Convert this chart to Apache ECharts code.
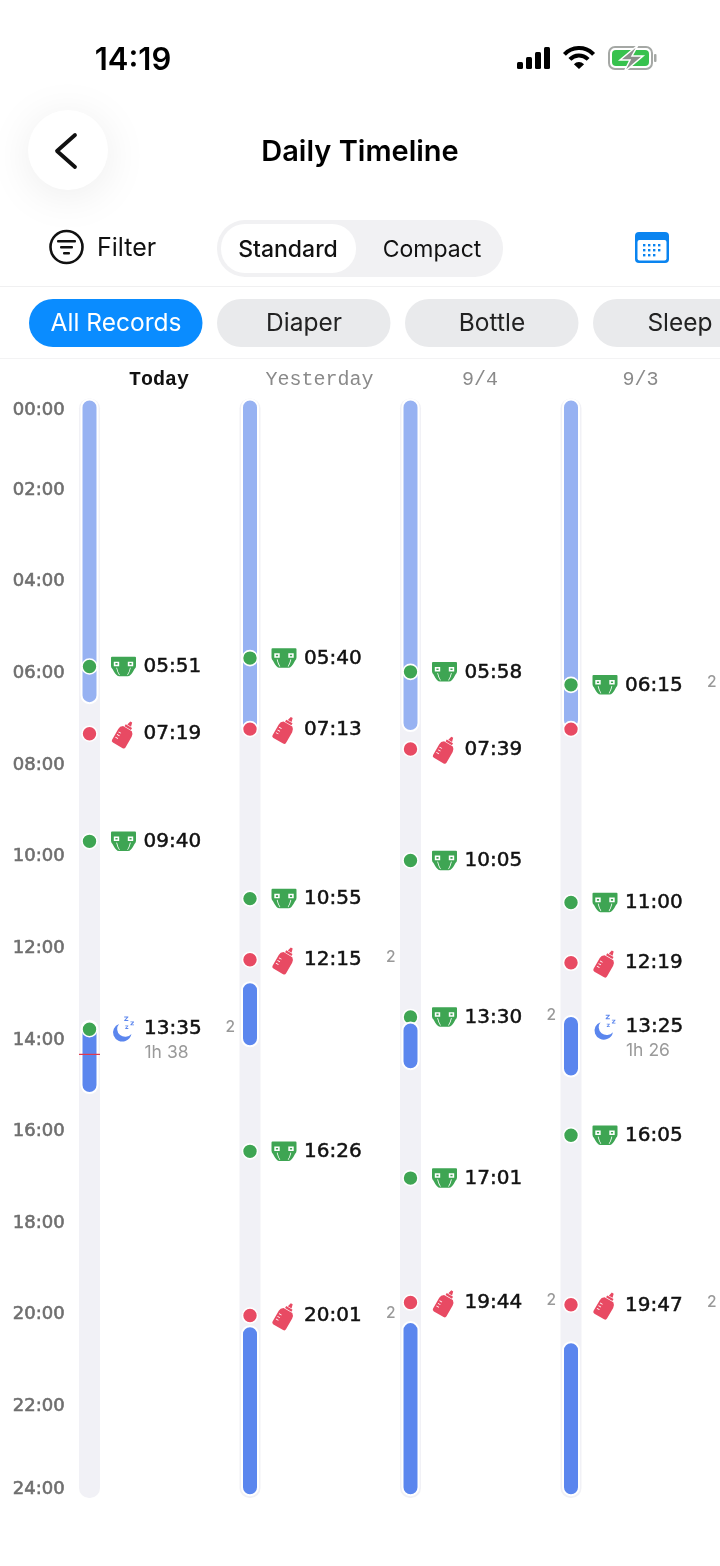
<!DOCTYPE html>
<html>
<head>
<meta charset="utf-8">
<style>
  html, body { margin: 0; padding: 0; background: #fff; }
  #main { width: 720px; height: 1566px; }
</style>
<script src="https://cdn.jsdelivr.net/npm/echarts@6/dist/echarts.min.js"></script>
</head>
<body>
<div id="main"></div>
<script>
// chart data
const days = ['Today', 'Yesterday', '9/4', '9/3']
const hourLabels = ['00:00', '02:00', '04:00', '06:00', '08:00', '10:00', '12:00', '14:00', '16:00', '18:00', '20:00', '22:00', '24:00']
const trackRows = [[0, 0, 24], [1, 0, 24], [2, 0, 24], [3, 0, 24]]
const nightSleep = [[0, 0.02, 6.65], [1, 0.02, 7.32], [2, 0.02, 7.26], [3, 0.02, 7.2]]
const daySleep = [[0, 13.58, 15.16], [1, 12.74, 14.14], [1, 20.25, 23.94], [2, 13.62, 14.64], [2, 20.16, 23.94], [3, 13.48, 14.8], [3, 20.6, 23.94]]
const diaperEvents = [[0, '05:51'], [0, '09:40'], [1, '05:40'], [1, '10:55'], [1, '16:26'], [2, '05:58'], [2, '10:05'], [2, '13:30'], [2, '17:01'], [3, '06:15'], [3, '11:00'], [3, '16:05']]
const bottleEvents = [[0, '07:19'], [1, '07:13'], [1, '12:15'], [1, '20:01'], [2, '07:39'], [2, '19:44'], [3, '12:19'], [3, '19:47']]
// dots without a row of their own
const diaperDotsExtra = [[0, '13:46']]
const bottleDotsExtra = [[3, '07:13']]
// this dot sits under the sleep bar
const diaperDotsUnder = [[2, '13:30']]
const sleepRows = [[0, 13.74, '13:35', '1h 38'], [3, 13.7, '13:25', '1h 26']]
const countBadges = [[0, 13.73, 2], [1, 12.2, 2], [1, 19.98, 2], [2, 13.46, 2], [2, 19.68, 2], [3, 6.19, 2], [3, 19.73, 2]]
const nowMark = [[0, '14:19']]

const tabNames = ['All Records', 'Diaper', 'Bottle', 'Sleep']

const UI_FONT = 'Inter, "Noto Sans", sans-serif'
const NUM_FONT = '"DejaVu Sans", sans-serif'
const MONO_FONT = '"Liberation Mono", monospace'
const GREEN = '#3EA553'
const RED = '#E84A63'
const BLUE = '#5B86EE'
const LIGHT_BLUE = '#97B2F2'

const DIAPER_PATH = 'path://M10 0H240Q250 0 250 10V90Q250 110 235 120Q200 190 170 190H80Q50 190 15 120Q0 110 0 90V10Q0 0 10 0Z' +
  'M28 48V92H82V48ZM44 62H66V78H44Z' +
  'M168 48V92H222V48ZM184 62H206V78H184Z' +
  'M52 108Q62 150 82 180L88 176Q70 150 60 106ZM190 106Q180 150 162 176L168 180Q188 150 198 108Z'
const BOTTLE_PATH = 'path://M62 0H82L92 40H52ZM38 46H106V68H38Z' +
  'M25 74H119Q144 92 144 122V242Q144 262 124 262H20Q0 262 0 242V122Q0 92 25 74Z' +
  'M15 140V148H42V140ZM15 170V178H42V170ZM15 200V208H42V200Z'
const MOON_PATH = 'path://M60 75A90 90 0 1 0 180 175A75 75 0 0 1 60 75Z' +
  'M110 0H150V8L125 35H150V45H110V37L135 10H110Z' +
  'M170 50H205V57L184 80H205V88H170V81L191 58H170Z' +
  'M120 90H150V96L132 116H150V124H120V118L138 98H120Z'

const toHour = (text) => {
  const parts = text.split(':')
  return Number(parts[0]) + Number(parts[1]) / 60
}
const toPoints = (list) => list.map(item => [item[0], toHour(item[1]), item[1]])

// rounded vertical bar between two hours of a day
const barRender = (width, radius, fill, stroke) => (params, api) => {
  const top = api.coord([api.value(0), api.value(1)])
  const bottom = api.coord([api.value(0), api.value(2)])
  return {
    type: 'rect',
    shape: { x: top[0] - width / 2, y: top[1], width: width, height: bottom[1] - top[1], r: radius },
    style: { fill: fill, stroke: stroke, lineWidth: stroke ? 2 : 0 }
  }
}

const barSeries = (name, data, render, z) => ({
  name: name,
  type: 'custom',
  data: data,
  z: z,
  silent: true,
  clip: false,
  encode: { x: 0, y: [1, 2] },
  renderItem: render
})

const dotSeries = (name, data, color, z) => ({
  name: name,
  type: 'scatter',
  data: data,
  z: z,
  silent: true,
  symbol: 'circle',
  symbolSize: 15,
  itemStyle: { color: color, borderColor: '#fff', borderWidth: 1.6, opacity: 1 }
})

const iconSeries = (name, data, path, size, rotate, color, offset) => ({
  name: name,
  type: 'scatter',
  data: data,
  z: 4,
  silent: true,
  symbol: path,
  symbolSize: size,
  symbolRotate: rotate,
  symbolOffset: offset,
  itemStyle: { color: color, opacity: 1 }
})

// invisible anchor, only its label shows
const labelSeries = (name, data, textStyle, distance, offset, field) => ({
  name: name,
  type: 'scatter',
  data: data,
  z: 5,
  silent: true,
  symbolSize: 1,
  itemStyle: { color: 'transparent', opacity: 1 },
  label: Object.assign({
    show: true,
    position: 'right',
    distance: distance,
    offset: offset,
    formatter: p => String(p.value[field])
  }, textStyle)
})

const timeStyle = { fontFamily: NUM_FONT, fontSize: 20, color: '#111', textBorderColor: '#111', textBorderWidth: 0.5 }

const text = (x, y, value, font, color, align) => ({
  type: 'text',
  x: x,
  y: y,
  silent: true,
  style: {
    text: value,
    fontFamily: UI_FONT,
    fontSize: font.size,
    fontWeight: font.weight,
    fill: color,
    align: align || 'center',
    verticalAlign: 'middle'
  }
})

const rect = (x, y, w, h, r, fill) => ({
  type: 'rect',
  silent: true,
  shape: { x: x, y: y, width: w, height: h, r: r },
  style: { fill: fill }
})

const arc = (cx, cy, r, width) => ({
  type: 'arc',
  silent: true,
  shape: { cx: cx, cy: cy, r: r, startAngle: -Math.PI * 0.76, endAngle: -Math.PI * 0.24 },
  style: { fill: 'none', stroke: '#000', lineWidth: width }
})

const tabX = [29, 217, 405, 593]
const calendarDots = [[643, 244], [648, 244], [653, 244], [658, 244], [643, 249], [648, 249], [653, 249], [658, 249], [643, 254], [648, 254], [653, 254]]

const chrome = [
  // status bar
  text(133, 60.5, '14:19', { size: 31, weight: 600 }, '#000'),
  rect(517, 62, 6, 7, 1.5, '#000'),
  rect(526, 57, 6, 12, 1.5, '#000'),
  rect(535, 52, 6, 17, 1.5, '#000'),
  rect(544, 47, 6, 22, 1.5, '#000'),
  arc(579, 68, 20, 4),
  arc(579, 68, 12.5, 4),
  {
    type: 'sector',
    silent: true,
    shape: { cx: 579, cy: 69, r0: 0, r: 7, startAngle: -Math.PI * 0.76, endAngle: -Math.PI * 0.24 },
    style: { fill: '#000' }
  },
  {
    type: 'rect',
    silent: true,
    shape: { x: 609, y: 47, width: 43, height: 22, r: 6 },
    style: { fill: '#fff', stroke: '#A5A8A5', lineWidth: 2 }
  },
  rect(612, 50, 37, 16, 4, '#37C24E'),
  rect(654, 54, 2.5, 8, 1, '#A5A8A5'),
  {
    type: 'polygon',
    silent: true,
    shape: { points: [[638, 45], [620, 60], [630, 60], [624, 72], [643, 56], [632, 56]] },
    style: { fill: '#8C8F8C', stroke: '#fff', lineWidth: 1.5 }
  },
  // nav bar
  {
    type: 'circle',
    silent: true,
    shape: { cx: 68, cy: 150, r: 40 },
    style: { fill: '#fff', shadowBlur: 45, shadowColor: 'rgba(0,0,0,0.08)', shadowOffsetY: 6 }
  },
  {
    type: 'polyline',
    silent: true,
    shape: { points: [[75, 135], [57, 151], [75, 167]] },
    style: { fill: 'none', stroke: '#111', lineWidth: 3.8, lineCap: 'round', lineJoin: 'round' }
  },
  text(360, 152.5, 'Daily Timeline', { size: 29, weight: 600 }, '#000'),
  // filter row
  {
    type: 'circle',
    silent: true,
    shape: { cx: 66.5, cy: 247, r: 16 },
    style: { fill: 'none', stroke: '#111', lineWidth: 2.6 }
  },
  rect(57, 240, 19, 2.4, 1, '#111'),
  rect(60, 246, 13, 2.4, 1, '#111'),
  rect(63, 252, 7, 2.4, 1, '#111'),
  text(97, 248.5, 'Filter', { size: 25, weight: 400 }, '#111', 'left'),
  rect(217, 220, 286, 57, 28, '#F1F1F3'),
  rect(221, 224, 135, 49, 24, '#fff'),
  text(288, 250, 'Standard', { size: 23, weight: 500 }, '#111'),
  text(432, 250, 'Compact', { size: 23, weight: 400 }, '#111'),
  // calendar icon
  rect(635, 232, 34, 31, 4, '#0A84F0'),
  rect(637.5, 240, 29, 20.5, 2, '#fff'),
  ...calendarDots.map(d => rect(d[0], d[1], 2.4, 2.4, 0, '#0A84F0')),
  rect(0, 286, 720, 1, 0, '#F0F0F1'),
  // record type tabs
  ...tabNames.map((name, i) => rect(tabX[i], 299, 173.5, 48, 24, i === 0 ? '#0A8CFF' : '#E9EAEC')),
  ...tabNames.map((name, i) => text(tabX[i] + 87, 324, name, { size: 24.5, weight: 400 }, i === 0 ? '#fff' : '#222')),
  rect(0, 358, 720, 1, 0, '#F3F3F4')
]

const option = {
  backgroundColor: '#fff',
  animation: false,
  graphic: { elements: chrome },
  grid: { left: 9.25, top: 398.5, width: 642, height: 1099.5 },
  xAxis: {
    type: 'category',
    position: 'top',
    data: days,
    axisLine: { show: false },
    axisTick: { show: false },
    axisLabel: {
      margin: 9,
      padding: [0, 0, 0, 139],
      interval: 0,
      formatter: (value) => value === days[0] ? '{today|' + value + '}' : '{past|' + value + '}',
      rich: {
        today: { fontFamily: MONO_FONT, fontSize: 20, fontWeight: 'bold', color: '#111' },
        past: { fontFamily: MONO_FONT, fontSize: 20, color: '#8A8A8A' }
      }
    }
  },
  yAxis: {
    type: 'value',
    inverse: true,
    min: 0,
    max: 24,
    interval: 2,
    axisLine: { show: false },
    axisTick: { show: false },
    splitLine: { show: false },
    axisLabel: {
      inside: true,
      margin: 3.5,
      padding: [3, 0, 0, 0],
      fontFamily: NUM_FONT,
      fontSize: 18,
      fontWeight: 'normal',
      color: '#6E6E6E',
      textBorderColor: '#6E6E6E',
      textBorderWidth: 0.6,
      verticalAlignMinLabel: 'top',
      verticalAlignMaxLabel: 'bottom',
      formatter: (value) => hourLabels[value / 2]
    }
  },
  series: [
    barSeries('track', trackRows, barRender(21, 10, '#F1F1F6'), 1),
    dotSeries('diaperUnder', toPoints(diaperDotsUnder), GREEN, 2),
    barSeries('nightSleep', nightSleep, barRender(16, 8, LIGHT_BLUE, '#fff'), 3),
    barSeries('daySleep', daySleep, barRender(16, 8, BLUE, '#fff'), 3),
    dotSeries('diaper', toPoints(diaperEvents.filter(e => !diaperDotsUnder.some(u => u[0] === e[0] && u[1] === e[1])).concat(diaperDotsExtra)), GREEN, 4),
    dotSeries('bottle', toPoints(bottleEvents.concat(bottleDotsExtra)), RED, 4),
    iconSeries('diaperIcon', toPoints(diaperEvents), DIAPER_PATH, [25, 19.5], 0, GREEN, [34, 0]),
    iconSeries('bottleIcon', toPoints(bottleEvents), BOTTLE_PATH, [15.5, 27], -30, RED, [35, 0]),
    iconSeries('sleepIcon', sleepRows.map(r => [r[0], r[1]]), MOON_PATH, [21, 25], 0, BLUE, [34, 1]),
    labelSeries('diaperTime', toPoints(diaperEvents), timeStyle, 53.5, [0, 0.5], 2),
    labelSeries('bottleTime', toPoints(bottleEvents), timeStyle, 53.5, [0, 0.5], 2),
    labelSeries('sleepTime', sleepRows, timeStyle, 54, [0, 0.5], 2),
    labelSeries('sleepLength', sleepRows, { fontFamily: UI_FONT, fontSize: 17.5, color: '#9A9A9A' }, 54.5, [0, 24.5], 3),
    labelSeries('count', countBadges, { fontFamily: UI_FONT, fontSize: 15.5, fontWeight: 500, color: '#999' }, 135.5, [0, 0], 2),
    {
      name: 'now',
      type: 'custom',
      data: toPoints(nowMark),
      z: 6,
      silent: true,
      clip: false,
      encode: { x: 0, y: 1 },
      renderItem: (params, api) => {
        const point = api.coord([api.value(0), api.value(1)])
        return {
          type: 'line',
          shape: { x1: point[0] - 10.5, y1: point[1], x2: point[0] + 10.5, y2: point[1] },
          style: { stroke: '#E0394F', lineWidth: 1.2 }
        }
      }
    }
  ]
}

const chart = echarts.init(document.getElementById('main'))
chart.setOption(option)
</script>
</body>
</html>
